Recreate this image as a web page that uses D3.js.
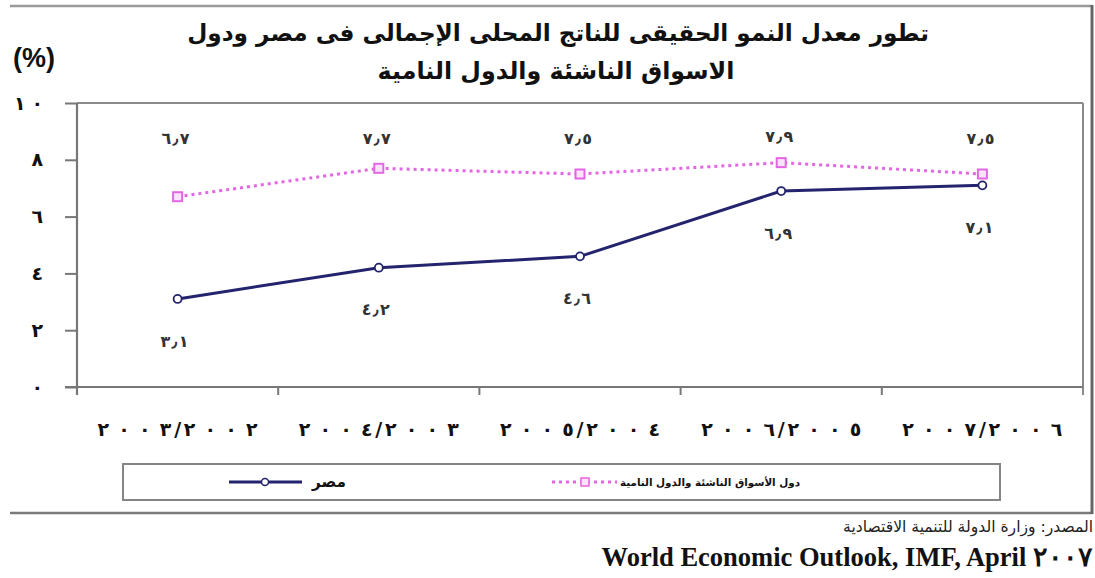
<!DOCTYPE html>
<html><head><meta charset="utf-8">
<script src="https://cdn.jsdelivr.net/npm/d3@7"></script>
<style>
html,body{margin:0;padding:0;background:#fff;}
svg{display:block;}
</style></head>
<body>
<svg id="c" width="1095" height="578"></svg>
<script>
const categories = ["٢٠٠٣/٢٠٠٢","٢٠٠٤/٢٠٠٣","٢٠٠٥/٢٠٠٤","٢٠٠٦/٢٠٠٥","٢٠٠٧/٢٠٠٦"];
const egypt = [3.1, 4.2, 4.6, 6.9, 7.1];
const emerging = [6.7, 7.7, 7.5, 7.9, 7.5];
const yTicks = [0, 2, 4, 6, 8, 10];
const seriesNames = ["مصر", "دول الأسواق الناشئة والدول النامية"];
const titleLines = ["تطور معدل النمو الحقيقى للناتج المحلى الإجمالى فى مصر ودول", "الاسواق الناشئة والدول النامية"];
const unitLabel = "(%)";
const sourceLine = "المصدر: وزارة الدولة للتنمية الاقتصادية";
const sourceLine2 = "World Economic Outlook, IMF, April ٢٠٠٧";

const arDigits = "٠١٢٣٤٥٦٧٨٩";
const toAr = v => String(v).replace(/[0-9]/g, d => arDigits[+d]).replace(".", "٫");

const svg = d3.select("#c");
const AR = "'DejaVu Sans', sans-serif";
const navy = "#23236e", pink = "#e466e4";

function fit(sel, target) {
  const n = sel.node();
  const fs = parseFloat(sel.attr("font-size"));
  const w = n.getComputedTextLength();
  sel.attr("font-size", fs * target / w);
}
// spread characters of a digit string so that it spans about `target` px
function spread(textEl, str, target) {
  const s = d3.select(textEl);
  s.text(str);
  const w = textEl.getComputedTextLength();
  const chars = [...str];
  const weights = chars.map((ch, i) => i === 0 ? 0 : ((ch === "/" || chars[i-1] === "/") ? 0.3 : 1));
  const sumW = d3.sum(weights) || 1;
  const total = Math.max(0, target - w);
  s.text(null);
  chars.forEach((ch, i) => s.append("tspan").attr("dx", total * weights[i] / sumW).text(ch));
}

// outer frame
svg.append("line").attr("x1",10).attr("x2",1092).attr("y1",6).attr("y2",6).attr("stroke","#9a9a9a").attr("stroke-width",2.5);
svg.append("line").attr("x1",10).attr("x2",1092).attr("y1",513).attr("y2",513).attr("stroke","#7a7a7a").attr("stroke-width",2.5);
svg.append("line").attr("x1",1092).attr("x2",1092).attr("y1",5).attr("y2",514).attr("stroke","#666").attr("stroke-width",3);

// scales
const x = d3.scaleBand().domain(categories).range([77, 1083]).padding(0);
const y = d3.scaleLinear().domain([0, 10]).range([387, 103]);

// plot frame (top & right)
svg.append("line").attr("x1",77).attr("x2",1083).attr("y1",y(10)).attr("y2",y(10)).attr("stroke","#8a8a8a").attr("stroke-width",2);
svg.append("line").attr("x1",1083).attr("x2",1083).attr("y1",y(10)).attr("y2",395).attr("stroke","#8a8a8a").attr("stroke-width",2);

// y axis
const yAxis = svg.append("g").attr("transform","translate(77,0)")
  .call(d3.axisLeft(y).tickValues(yTicks).tickSize(12).tickFormat(d => toAr(d)));
yAxis.select(".domain").remove();
yAxis.append("line").attr("x1",0).attr("x2",0).attr("y1",y(10)).attr("y2",395).attr("stroke","#777").attr("stroke-width",2.2);
yAxis.selectAll(".tick line").attr("stroke","#777").attr("stroke-width",2);
yAxis.selectAll(".tick text").attr("x",-34).attr("font-family",AR).attr("font-weight","bold")
  .attr("font-size",19).attr("fill","#111").attr("direction","ltr")
  .each(function(d){ spread(this, toAr(d), 29); });

// x axis
const xAxis = svg.append("g").attr("transform",`translate(0,${y(0)})`)
  .call(d3.axisBottom(x).tickSize(0).tickFormat(d => d));
xAxis.select(".domain").remove();
xAxis.append("line").attr("x1",65).attr("x2",1083).attr("y1",0).attr("y2",0).attr("stroke","#777").attr("stroke-width",2.2);
xAxis.selectAll(".bt").data(categories.slice(1)).join("line")
  .attr("x1",d=>x(d)).attr("x2",d=>x(d)).attr("y1",0).attr("y2",8).attr("stroke","#777").attr("stroke-width",2);
xAxis.selectAll(".tick text").attr("y",36).attr("font-family",AR).attr("font-weight","bold")
  .attr("font-size",19).attr("fill","#111").attr("direction","ltr")
  .each(function(d){ spread(this, d, 160); });

const cx = i => x(categories[i]) + x.bandwidth()/2;

// emerging line (dotted)
const lineGen = d3.line().x((d,i)=>cx(i)).y(d=>y(d));
svg.append("path").datum(emerging).attr("d",lineGen).attr("fill","none")
  .attr("stroke",pink).attr("stroke-width",3).attr("stroke-dasharray","3,4");
svg.selectAll(".em").data(emerging).join("rect")
  .attr("x",(d,i)=>cx(i)-4.5).attr("y",d=>y(d)-4.5).attr("width",9).attr("height",9)
  .attr("fill","#fbe3fb").attr("stroke",pink).attr("stroke-width",2);

// egypt line
svg.append("path").datum(egypt).attr("d",lineGen).attr("fill","none")
  .attr("stroke",navy).attr("stroke-width",3);
svg.selectAll(".eg").data(egypt).join("circle")
  .attr("cx",(d,i)=>cx(i)).attr("cy",d=>y(d)).attr("r",4)
  .attr("fill","#fff").attr("stroke",navy).attr("stroke-width",1.8);

// data labels
svg.selectAll(".eml").data(emerging).join("text")
  .attr("x",(d,i)=>cx(i)-2).attr("y",d=>Math.min(y(d)-26, y(8.75))).attr("dy","0.35em")
  .attr("text-anchor","middle").attr("direction","ltr").attr("font-family",AR).attr("font-weight","bold")
  .attr("font-size",16).attr("fill","#333").each(function(d){ spread(this, toAr(d), 28); });
svg.selectAll(".egl").data(egypt).join("text")
  .attr("x",(d,i)=>cx(i)-3).attr("y",d=>y(d)+42).attr("dy","0.35em")
  .attr("text-anchor","middle").attr("direction","ltr").attr("font-family",AR).attr("font-weight","bold")
  .attr("font-size",16).attr("fill","#333").each(function(d){ spread(this, toAr(d), 28); });

// title
const t1 = svg.append("text").attr("x",558).attr("y",33).attr("dy","0.35em").attr("text-anchor","middle")
  .attr("direction","rtl").attr("font-family",AR).attr("font-weight","bold").attr("font-size",22).attr("fill","#111").text(titleLines[0]);
fit(t1, 742);
const t2 = svg.append("text").attr("x",556).attr("y",71).attr("dy","0.35em").attr("text-anchor","middle")
  .attr("direction","rtl").attr("font-family",AR).attr("font-weight","bold").attr("font-size",22).attr("fill","#111").text(titleLines[1]);
fit(t2, 357);
const u = svg.append("text").attr("x",13).attr("y",58).attr("dy","0.35em").attr("font-family","'Liberation Sans', Arial, sans-serif")
  .attr("font-weight","bold").attr("font-size",20).attr("fill","#111").text(unitLabel);
fit(u, 42);

// legend
svg.append("rect").attr("x",123).attr("y",464).attr("width",877).attr("height",36)
  .attr("fill","#fff").attr("stroke","#858585").attr("stroke-width",2);
const ly = 482;
svg.append("line").attr("x1",229).attr("x2",302).attr("y1",ly).attr("y2",ly).attr("stroke",navy).attr("stroke-width",3);
svg.append("circle").attr("cx",265).attr("cy",ly).attr("r",3.5).attr("fill","#fff").attr("stroke",navy).attr("stroke-width",1.5);
const l1 = svg.append("text").attr("x",346).attr("y",ly).attr("dy","0.35em").attr("text-anchor","start").attr("direction","rtl")
  .attr("font-family",AR).attr("font-weight","bold").attr("font-size",11).attr("fill","#111").text(seriesNames[0]);
fit(l1, 34);
svg.append("line").attr("x1",552).attr("x2",617).attr("y1",ly).attr("y2",ly).attr("stroke",pink).attr("stroke-width",3).attr("stroke-dasharray","3,4");
svg.append("rect").attr("x",581).attr("y",ly-4).attr("width",8).attr("height",8).attr("fill","#fbe3fb").attr("stroke",pink).attr("stroke-width",1.5);
const l2 = svg.append("text").attr("x",800).attr("y",ly).attr("dy","0.35em").attr("text-anchor","start").attr("direction","rtl")
  .attr("font-family",AR).attr("font-weight","bold").attr("font-size",11).attr("fill","#111").text(seriesNames[1]);
fit(l2, 180);

// source
const s1 = svg.append("text").attr("x",1093).attr("y",527).attr("dy","0.35em").attr("text-anchor","start").attr("direction","rtl")
  .attr("font-family",AR).attr("font-size",11).attr("fill","#222").text(sourceLine);
fit(s1, 250);
const s2 = svg.append("text").attr("x",1093).attr("y",557).attr("dy","0.35em").attr("text-anchor","end")
  .attr("font-family","'Liberation Serif', 'Times New Roman', serif").attr("font-weight","bold").attr("font-size",20).attr("fill","#111").text(sourceLine2);
fit(s2, 490);
</script>
</body></html>
